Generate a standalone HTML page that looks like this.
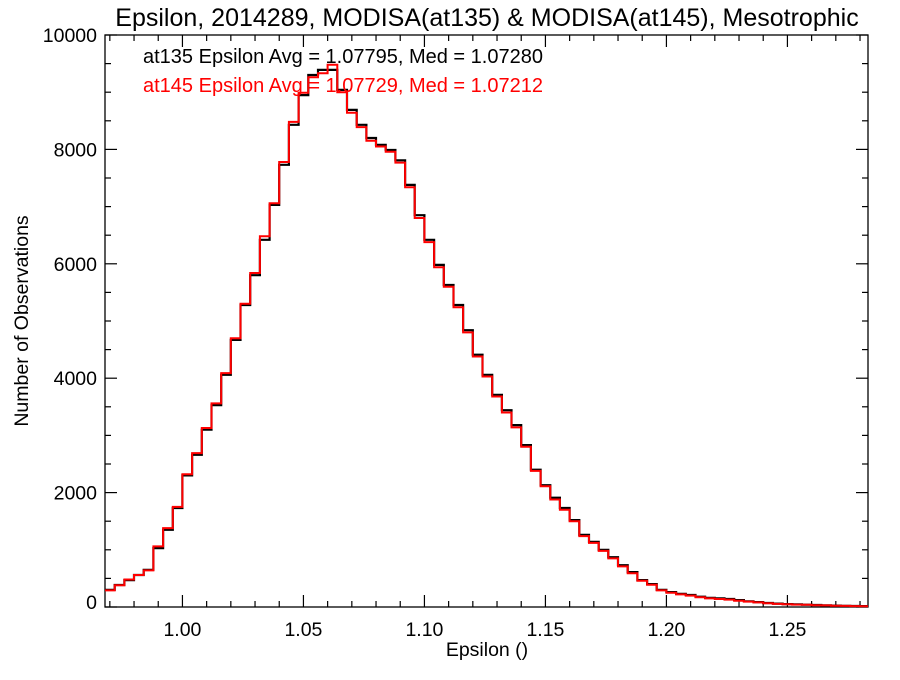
<!DOCTYPE html>
<html><head><meta charset="utf-8"><style>
body{margin:0;background:#fff}
svg text{font-family:"Liberation Sans",sans-serif}
</style></head><body>
<svg id="chart" width="900" height="675" xmlns="http://www.w3.org/2000/svg">
<text x="487" y="26" font-size="25" text-anchor="middle">Epsilon, 2014289, MODISA(at135) &amp; MODISA(at145), Mesotrophic</text>
<text x="487" y="656" font-size="19.5" text-anchor="middle">Epsilon ()</text>
<text transform="translate(28,321) rotate(-90)" font-size="19.5" text-anchor="middle">Number of Observations</text>
<g id="axes"></g>
<g id="series"></g>
<text x="143" y="63" font-size="20" fill="#000">at135 Epsilon Avg = 1.07795, Med = 1.07280</text>
<text x="143" y="92" font-size="20" fill="#ff0000">at145 Epsilon Avg = 1.07729, Med = 1.07212</text>
</svg>
<script>
const binStart = 0.968;
const binWidth = 0.004;
const countsAt135 = [300,385,470,560,650,1030,1350,1730,2300,2660,3100,3530,4060,4670,5280,5800,6420,7030,7730,8430,8950,9300,9390,9390,9040,8690,8430,8200,8080,7990,7810,7380,6850,6420,5980,5630,5280,4840,4410,4060,3710,3440,3180,2830,2400,2130,1910,1730,1520,1260,1140,1000,870,730,610,470,400,300,260,230,210,180,160,150,140,120,100,85,70,60,50,45,40,35,30,25,20,18,15];
const countsAt145 = [290,380,480,560,640,1060,1380,1750,2320,2690,3130,3560,4090,4700,5300,5840,6480,7060,7780,8480,8990,9260,9330,9480,9000,8640,8390,8150,8050,7960,7770,7340,6800,6380,5940,5600,5240,4800,4380,4030,3680,3400,3140,2800,2380,2110,1880,1700,1500,1240,1120,980,850,710,590,460,390,290,250,220,200,170,150,140,130,110,95,80,65,55,48,42,38,32,28,23,19,16,14];
const xTicks = [1.00,1.05,1.10,1.15,1.20,1.25];
const yTicks = [0,2000,4000,6000,8000,10000];
const X0=105,X1=868,Y0=607,Y1=35, xmin=0.968,xmax=1.2833,ymin=0,ymax=10000;
const sx=v=>X0+(v-xmin)/(xmax-xmin)*(X1-X0);
const sy=v=>Y0-(v-ymin)/(ymax-ymin)*(Y0-Y1);
const NS="http://www.w3.org/2000/svg";
const axes=document.getElementById('axes');
function mk(tag,attrs,parent){const e=document.createElementNS(NS,tag);for(const k in attrs)e.setAttribute(k,attrs[k]);parent.appendChild(e);return e;}
const frame=mk('rect',{x:X0,y:Y1,width:X1-X0,height:Y0-Y1,fill:'none',stroke:'#000','stroke-width':1.3},axes);


for(let v=0.97;v<=xmax+1e-9;v+=0.01){
  const major=xTicks.some(t=>Math.abs(t-v)<1e-6);const L=major?12:6;const x=sx(v);
  const t1=mk('line',{x1:x,x2:x,y1:Y0,y2:Y0-L,stroke:'#000','stroke-width':1.2},axes);
  
  
  const t2=mk('line',{x1:x,x2:x,y1:Y1,y2:Y1+L,stroke:'#000','stroke-width':1.2},axes);
  
  
}
xTicks.forEach(v=>{const t=mk('text',{x:sx(v),y:Y0+29,'font-size':19.5,'text-anchor':'middle'},axes);t.textContent=v.toFixed(2);
  
  });
for(let v=0;v<=ymax;v+=500){
  const major=v%2000===0;const L=major?12:6;const y=sy(v);
  const t1=mk('line',{x1:X0,x2:X0+L,y1:y,y2:y,stroke:'#000','stroke-width':1.2},axes);
  
  
  const t2=mk('line',{x1:X1,x2:X1-L,y1:y,y2:y,stroke:'#000','stroke-width':1.2},axes);
  
  
}
yTicks.forEach(v=>{const t=mk('text',{x:X0-8,y:sy(v)+(v===0?2:7),'font-size':19.5,'text-anchor':'end'},axes);t.textContent=String(v);
  
  });
const series=document.getElementById('series');
function stepPath(arr){let d='';arr.forEach((c,i)=>{const xa=Math.max(sx(binStart+i*binWidth),X0),xb=Math.min(sx(binStart+(i+1)*binWidth),X1);const y=sy(c);d+=(i===0?'M':'L')+xa.toFixed(1)+','+y.toFixed(1)+'L'+xb.toFixed(1)+','+y.toFixed(1);});return d;}
const p1=mk('path',{d:stepPath(countsAt135),fill:'none',stroke:'#000','stroke-width':2.2},series);


const p2=mk('path',{d:stepPath(countsAt145),fill:'none',stroke:'#ff0000','stroke-width':2},series);


</script>
</body></html>
